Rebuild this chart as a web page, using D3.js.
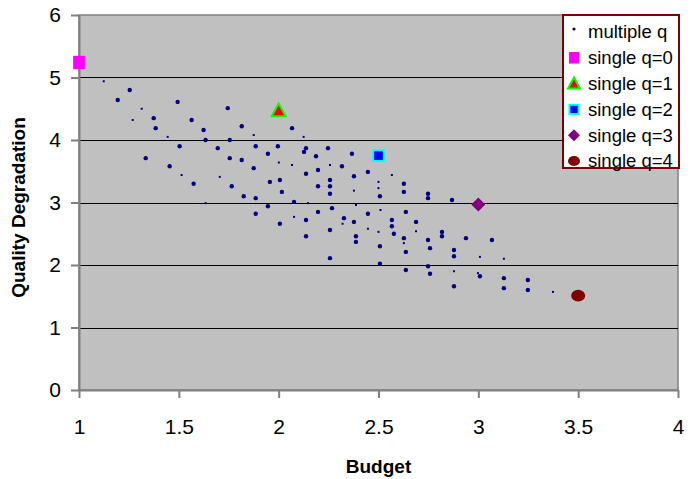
<!DOCTYPE html>
<html>
<head>
<meta charset="utf-8">
<script src="https://cdn.jsdelivr.net/npm/d3@7"></script>
<style>
  body { margin: 0; background: #fff; }
  text { font-family: "Liberation Sans", Arial, sans-serif; }
</style>
</head>
<body>
<div id="chart"></div>
<script>
// "multiple q" series, large dots
const multipleQ = [
  [1.254, 4.80], [1.194, 4.64], [1.494, 4.61], [1.374, 4.35], [1.384, 4.19], [1.564, 4.32],
  [1.745, 4.51], [1.624, 4.16], [1.815, 4.22], [1.634, 4.00], [1.755, 4.00], [1.504, 3.90],
  [1.695, 3.87], [1.885, 3.90], [1.334, 3.71], [1.755, 3.71], [1.815, 3.68], [1.454, 3.58],
  [1.875, 3.55], [1.574, 3.30], [1.765, 3.26], [1.825, 3.10], [1.885, 3.07], [1.885, 2.82],
  [2.067, 4.19], [1.996, 3.90], [2.137, 3.87], [2.247, 3.87], [1.946, 3.78], [2.127, 3.81],
  [2.187, 3.74], [2.367, 3.78], [2.317, 3.58], [2.197, 3.52], [2.137, 3.46], [2.377, 3.42],
  [2.447, 3.49], [1.956, 3.33], [2.006, 3.36], [2.257, 3.36], [2.627, 3.30], [2.197, 3.26],
  [2.257, 3.26], [2.016, 3.17], [2.257, 3.14], [2.627, 3.17], [2.507, 3.10], [2.748, 3.14],
  [2.748, 3.07], [2.077, 3.01], [1.946, 2.94], [2.267, 2.91], [2.197, 2.85], [2.447, 2.82],
  [2.637, 2.85], [2.327, 2.75], [2.137, 2.72], [2.377, 2.69], [2.567, 2.72], [2.688, 2.69],
  [2.006, 2.66], [2.567, 2.62], [2.257, 2.56], [2.577, 2.50], [2.137, 2.46], [2.387, 2.46],
  [2.627, 2.43], [2.387, 2.37], [2.748, 2.40], [2.507, 2.30], [2.758, 2.27], [2.637, 2.21],
  [2.257, 2.11], [2.507, 2.02], [2.748, 1.98], [2.637, 1.92], [2.758, 1.86], [2.868, 3.04],
  [2.818, 2.53], [2.818, 2.46], [2.938, 2.43], [3.068, 2.40], [2.878, 2.24], [2.878, 2.14],
  [3.008, 1.82], [3.128, 1.79], [3.248, 1.76], [2.878, 1.66], [3.128, 1.63], [3.248, 1.60]
];

// "multiple q" series, faint small dots
const multipleQSmall = [
  [1.124, 4.94], [1.314, 4.50], [1.269, 4.32], [1.875, 4.08], [1.444, 4.05], [1.514, 3.44],
  [1.705, 3.41], [1.634, 2.99], [2.125, 4.05], [2.001, 3.64], [2.067, 3.60], [2.257, 3.60],
  [2.567, 3.44], [2.500, 3.33], [2.500, 3.23], [2.377, 3.19], [2.147, 2.99], [2.387, 2.96],
  [2.510, 2.88], [2.077, 2.77], [2.320, 2.66], [2.447, 2.58], [2.500, 2.53], [2.688, 2.54],
  [2.627, 2.35], [3.008, 2.13], [3.128, 2.10], [2.878, 1.90], [2.998, 1.87], [3.374, 1.57]
];

// single q series
const singleNames = ["single q=0", "single q=1", "single q=2", "single q=3", "single q=4"];
const singleBudget = [1.0, 2.0, 2.5, 3.0, 3.5];
const singleQuality = [5.24, 4.47, 3.75, 2.97, 1.51];

const xTicks = [1, 1.5, 2, 2.5, 3, 3.5, 4];
const yTicks = [0, 1, 2, 3, 4, 5, 6];

const width = 693, height = 479;
const margin = { top: 15, right: 15, bottom: 89, left: 79 };

const svg = d3.select("#chart").append("svg")
  .attr("width", width)
  .attr("height", height);

const x = d3.scaleLinear().domain([1, 4]).range([margin.left, width - margin.right]);
const y = d3.scaleLinear().domain([0, 6]).range([height - margin.bottom, margin.top]);

// plot area
svg.append("rect")
  .attr("x", x(1)).attr("y", y(6))
  .attr("width", x(4) - x(1)).attr("height", y(0) - y(6))
  .attr("fill", "#c0c0c0")
  .attr("stroke", "#808080")
  .attr("stroke-width", 1.5);

// gridlines
svg.append("g").selectAll("line")
  .data(yTicks.filter(d => d > 0 && d < 6))
  .join("line")
  .attr("x1", x(1)).attr("x2", x(4))
  .attr("y1", d => Math.round(y(d)) + 0.5).attr("y2", d => Math.round(y(d)) + 0.5)
  .attr("stroke", "#000")
  .attr("stroke-width", 1);

// axes
const xAxis = svg.append("g")
  .attr("transform", `translate(0,${y(0)})`)
  .call(d3.axisBottom(x).tickValues(xTicks).tickFormat(d3.format("")).tickSizeInner(8).tickSizeOuter(0).tickPadding(21));

const yAxis = svg.append("g")
  .attr("transform", `translate(${x(1)},0)`)
  .call(d3.axisLeft(y).tickValues(yTicks).tickFormat(d3.format("d")).tickSizeInner(8).tickSizeOuter(0).tickPadding(10));

[xAxis, yAxis].forEach(g => {
  g.select(".domain").attr("stroke", "#808080").attr("stroke-width", 2);
  g.selectAll(".tick line").attr("stroke", "#808080").attr("stroke-width", 2);
  g.selectAll(".tick text").attr("fill", "#000").style("font-size", "21px");
});

// axis titles
svg.append("text")
  .attr("x", (x(1) + x(4)) / 2)
  .attr("y", 473)
  .attr("text-anchor", "middle")
  .style("font-size", "19px")
  .style("font-weight", "bold")
  .text("Budget");

svg.append("text")
  .attr("transform", `translate(25,${(y(0) + y(6)) / 2 + 5}) rotate(-90)`)
  .attr("text-anchor", "middle")
  .style("font-size", "19px")
  .style("font-weight", "bold")
  .text("Quality Degradation");

// multiple q dots
svg.append("g").selectAll("circle")
  .data(multipleQ)
  .join("circle")
  .attr("cx", d => x(d[0]))
  .attr("cy", d => y(d[1]))
  .attr("r", 2.2)
  .attr("fill", "#000080");

svg.append("g").selectAll("rect")
  .data(multipleQSmall)
  .join("rect")
  .attr("x", d => x(d[0]) - 1)
  .attr("y", d => y(d[1]) - 1)
  .attr("width", 2)
  .attr("height", 2)
  .attr("fill", "#000080");

// single q markers
function drawMarker(g, i, cx, cy, s) {
  if (i === 0) {
    g.append("rect").attr("x", cx - s * 0.42).attr("y", cy - s * 0.48)
      .attr("width", s * 0.84).attr("height", s * 0.96).attr("fill", "#ff00ff");
  } else if (i === 1) {
    const h = s * 0.5;
    g.append("path")
      .attr("d", `M${cx},${cy - h}L${cx + h},${cy + h * 0.8}L${cx - h},${cy + h * 0.8}Z`)
      .attr("fill", "#ff0000").attr("stroke", "#00ff00").attr("stroke-width", 2);
  } else if (i === 2) {
    g.append("rect").attr("x", cx - s * 0.38).attr("y", cy - s * 0.38)
      .attr("width", s * 0.76).attr("height", s * 0.76)
      .attr("fill", "#0000ff").attr("stroke", "#00ffff").attr("stroke-width", 2);
  } else if (i === 3) {
    const h = s * 0.5;
    g.append("path")
      .attr("d", `M${cx},${cy - h}L${cx + h},${cy}L${cx},${cy + h}L${cx - h},${cy}Z`)
      .attr("fill", "#800080");
  } else {
    g.append("ellipse").attr("cx", cx).attr("cy", cy)
      .attr("rx", s * 0.5).attr("ry", s * 0.42).attr("fill", "#800000");
  }
}

const singles = svg.append("g");
singleNames.forEach((name, i) => {
  drawMarker(singles, i, x(singleBudget[i]), y(singleQuality[i]), 14);
});

// legend
const legend = svg.append("g");
legend.append("rect")
  .attr("x", 563).attr("y", 15)
  .attr("width", 116).attr("height", 153)
  .attr("fill", "#fff")
  .attr("stroke", "#800000")
  .attr("stroke-width", 2);

const legendNames = ["multiple q"].concat(singleNames);
legendNames.forEach((name, i) => {
  const ly = 32 + i * 25.8;
  if (i === 0) {
    legend.append("circle").attr("cx", 574).attr("cy", ly - 3).attr("r", 1.6).attr("fill", "#000080");
  } else {
    drawMarker(legend, i - 1, 574, ly, 12);
  }
  legend.append("text")
    .attr("x", 588)
    .attr("y", ly)
    .attr("dy", "0.35em")
    .style("font-size", "18.5px")
    .text(name);
});
</script>
</body>
</html>
